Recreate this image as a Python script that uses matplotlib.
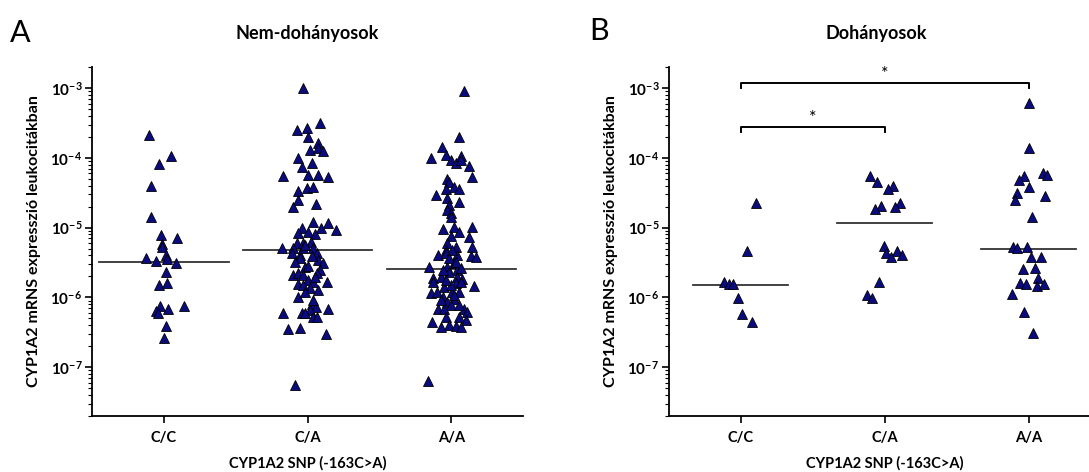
import matplotlib
matplotlib.use('Agg')
import matplotlib.pyplot as plt
import matplotlib.ticker as mticker
import numpy as np

plt.rcParams['font.family'] = ['Lato', 'DejaVu Sans']
plt.rcParams['mathtext.fontset'] = 'custom'
plt.rcParams['mathtext.rm'] = 'Lato'
plt.rcParams['mathtext.bf'] = 'Lato:bold'
plt.rcParams['axes.unicode_minus'] = False

genotypes = ['C/C', 'C/A', 'A/A']

# Nem-dohanyosok (jitter in category units)
nonsmoker_cc = [2.12e-4, 1.06e-4, 8.1e-5, 3.9e-5, 1.42e-5, 7.8e-6, 7.1e-6, 5.8e-6,
                5.25e-6, 3.65e-6, 4.0e-6, 3.5e-6, 3.3e-6, 3.1e-6, 2.3e-6, 1.5e-6,
                1.6e-6, 7.5e-7, 7.5e-7, 6.35e-7, 5.95e-7, 6.8e-7, 3.9e-7, 2.6e-7]
nonsmoker_cc_jitter = [-0.105, 0.05, -0.035, -0.09, -0.09, -0.02, 0.09, -0.015,
                       -0.015, -0.125, 0.015, 0.02, -0.055, 0.085, 0.015, -0.035,
                       0.02, -0.03, 0.14, -0.055, -0.04, 0.03, 0.015, 0.0]

nonsmoker_ca = [1.0e-3, 3.15e-4, 2.5e-4, 2.67e-4, 1.98e-4, 1.63e-4, 1.29e-4, 1.38e-4,
                1.25e-4, 9.9e-5, 8.4e-5, 7.4e-5, 5.47e-5, 5.66e-5, 5.66e-5, 5.3e-5,
                3.34e-5, 3.68e-5, 3.81e-5, 2.48e-5, 1.97e-5, 2.17e-5, 1.2e-5, 1.16e-5,
                9.2e-6, 9.8e-6, 9.8e-6, 8.3e-6, 8.6e-6, 8.07e-6, 6.0e-6, 6.0e-6,
                6.2e-6, 5.08e-6, 5.08e-6, 5.08e-6, 5.08e-6, 4.3e-6, 4.04e-6, 4.3e-6,
                3.42e-6, 3.1e-6, 2.72e-6, 2.46e-6, 2.08e-6, 2.23e-6, 2.08e-6, 2.23e-6,
                1.77e-6, 1.66e-6, 1.55e-6, 1.66e-6, 1.36e-6, 1.01e-6, 8.0e-7, 7.25e-7,
                6.6e-7, 6.8e-7, 5.95e-7, 5.95e-7, 5.95e-7, 5.2e-7, 5.2e-7, 3.5e-7,
                3.62e-7, 2.97e-7, 5.5e-8, 5.6e-6, 3.66e-6, 3.9e-6, 3.2e-6, 2.8e-6,
                1.95e-6, 1.5e-6, 1.27e-6, 1.19e-6, 9.1e-7]
nonsmoker_ca_jitter = [-0.035, 0.085, -0.075, -0.005, 0.005, 0.07, 0.015, 0.07,
                       0.105, -0.065, 0.03, -0.04, -0.17, 0.0, 0.075, 0.14,
                       -0.065, -0.005, 0.04, -0.07, -0.105, 0.055, 0.04, 0.14,
                       0.195, 0.09, -0.04, -0.07, 0.0, 0.05, -0.075, -0.035,
                       0.02, -0.175, -0.105, -0.035, 0.04, -0.11, -0.055, 0.065,
                       0.07, 0.105, -0.02, 0.085, -0.105, -0.07, -0.035, 0.065,
                       0.0, 0.035, -0.065, 0.135, 0.015, -0.065, 0.03, 0.055,
                       0.015, 0.14, -0.17, -0.04, -0.015, 0.04, 0.065, -0.14,
                       -0.05, 0.125, -0.085, -0.02, -0.055, 0.03, -0.085, 0.005,
                       0.05, -0.03, 0.07, -0.015, 0.035]

nonsmoker_aa = [9.06e-4, 1.98e-4, 1.43e-4, 9.9e-5, 1.09e-4, 9.3e-5, 8.4e-5, 1.06e-4,
                9.3e-5, 7.6e-5, 5.3e-5, 4.96e-5, 4.49e-5, 3.56e-5, 3.81e-5, 3.56e-5,
                2.92e-5, 2.65e-5, 2.32e-5, 2.1e-5, 1.78e-5, 1.61e-5, 1.42e-5, 9.5e-6,
                1.02e-5, 8.6e-6, 1.02e-5, 7.55e-6, 7.3e-6, 6.0e-6, 5.25e-6, 5.25e-6,
                4.75e-6, 4.04e-6, 4.3e-6, 4.04e-6, 3.9e-6, 3.78e-6, 2.72e-6, 2.72e-6,
                3.1e-6, 2.46e-6, 2.3e-6, 1.89e-6, 1.95e-6, 1.95e-6, 1.83e-6, 1.45e-6,
                1.66e-6, 1.6e-6, 1.66e-6, 1.4e-6, 1.15e-6, 1.19e-6, 1.19e-6, 1.19e-6,
                1.01e-6, 8.55e-7, 9.4e-7, 7.75e-7, 6.8e-7, 6.8e-7, 6.8e-7, 6.15e-7,
                5.2e-7, 5.2e-7, 4.7e-7, 4.4e-7, 4.0e-7, 3.87e-7, 3.74e-7, 3.74e-7,
                6.3e-8, 4.75e-6, 3.66e-6, 3.2e-6, 2.46e-6, 2.63e-6, 1.5e-6, 1.77e-6,
                1.08e-6, 9.1e-7, 7.75e-7]
nonsmoker_aa_jitter = [0.09, 0.055, -0.065, -0.14, -0.04, -0.005, 0.035, 0.07,
                       0.07, 0.12, 0.14, -0.03, -0.02, -0.035, 0.015, 0.055,
                       -0.105, -0.03, 0.055, -0.02, -0.03, -0.005, 0.0, -0.055,
                       0.015, 0.05, 0.14, 0.0, 0.12, -0.03, 0.035, 0.14,
                       -0.04, -0.09, -0.035, 0.04, 0.135, 0.17, -0.155, -0.03,
                       0.015, 0.04, -0.02, -0.125, -0.07, 0.04, 0.075, 0.155,
                       -0.125, 0.03, 0.065, -0.05, -0.145, -0.1, 0.005, 0.05,
                       -0.055, -0.03, 0.015, -0.005, -0.09, -0.05, 0.09, 0.11,
                       0.05, -0.04, 0.1, -0.135, -0.015, 0.035, -0.07, 0.07,
                       -0.16, 0.005, -0.015, 0.03, -0.055, 0.065, -0.005, -0.035,
                       0.02, -0.075, 0.05]

nonsmoker_medians = [3.25e-6, 4.8e-6, 2.57e-6]

# Dohanyosok
smoker_cc = [2.24e-5, 4.6e-6, 1.66e-6, 1.55e-6, 1.55e-6, 9.75e-7, 5.75e-7, 4.4e-7]
smoker_cc_jitter = [0.105, 0.04, -0.12, -0.085, -0.055, -0.02, 0.005, 0.075]

smoker_ca = [5.47e-5, 4.49e-5, 3.94e-5, 3.56e-5, 2.24e-5, 2.03e-5, 1.84e-5, 1.97e-5,
             5.43e-6, 4.3e-6, 4.6e-6, 3.78e-6, 4.04e-6, 1.66e-6, 1.08e-6, 9.75e-7]
smoker_ca_jitter = [-0.105, -0.055, 0.055, 0.02, 0.105, -0.03, -0.07, 0.07,
                    -0.005, 0.005, 0.085, 0.04, 0.12, -0.04, -0.125, -0.09]

smoker_aa = [6.1e-4, 1.38e-4, 6.05e-5, 5.66e-5, 5.47e-5, 4.8e-5, 3.81e-5, 3.12e-5,
             2.48e-5, 2.83e-5, 1.42e-5, 5.25e-6, 5.08e-6, 5.25e-6, 3.78e-6, 3.78e-6,
             2.57e-6, 2.63e-6, 1.89e-6, 1.6e-6, 1.55e-6, 1.45e-6, 1.55e-6, 1.11e-6,
             6.15e-7, 3.07e-7]
smoker_aa_jitter = [0.0, 0.0, 0.1, 0.125, -0.035, -0.07, 0.0, -0.085,
                    -0.1, 0.11, 0.02, -0.11, -0.085, -0.015, 0.015, 0.085,
                    -0.04, 0.04, 0.065, -0.065, -0.02, 0.055, 0.105, -0.12,
                    -0.035, 0.03]

smoker_medians = [1.5e-6, 1.17e-5, 5.0e-6]

# significance brackets: (from group, to group, height, label)
smoker_brackets = [(0, 2, 1.18e-3, '*'), (0, 1, 2.76e-4, '*')]


def log_label(val, pos):
    exp = int(np.round(np.log10(val)))
    return r'$\mathbf{10^{%d}}$' % exp


def draw_panel(ax, groups, jitters, medians, half_width):
    for i, (vals, jit) in enumerate(zip(groups, jitters)):
        x = i + np.array(jit)
        ax.plot(x, vals, linestyle='none', marker='^', markersize=6.5,
                markerfacecolor='#0b0b80', markeredgecolor='black',
                markeredgewidth=0.6, zorder=3)
        ax.plot([i - half_width, i + half_width], [medians[i], medians[i]],
                color='#333333', linewidth=1.3, zorder=2)

    ax.set_yscale('log')
    ax.set_ylim(2e-8, 2e-3)
    ax.set_xlim(-0.5, 2.5)
    ax.yaxis.set_minor_locator(mticker.LogLocator(base=10, subs=np.arange(2, 10), numticks=12))
    ax.yaxis.set_major_formatter(mticker.FuncFormatter(log_label))
    ax.yaxis.set_minor_formatter(mticker.NullFormatter())
    ax.set_yticks([1e-7, 1e-6, 1e-5, 1e-4, 1e-3])

    ax.set_xticks(range(len(genotypes)))
    ax.set_xticklabels(genotypes, fontweight='bold', fontsize=10.5)
    ax.tick_params(axis='x', length=5, width=1.2, pad=6)
    ax.tick_params(axis='y', which='major', length=5, width=1.2, labelsize=11, pad=2)
    ax.tick_params(axis='y', which='minor', length=3, width=0.8)

    for side in ['top', 'right']:
        ax.spines[side].set_visible(False)
    for side in ['left', 'bottom']:
        ax.spines[side].set_linewidth(1.3)

    ax.set_xlabel('CYP1A2 SNP (-163C>A)', fontweight='bold', fontsize=10.5, labelpad=8)
    ax.set_ylabel('CYP1A2 mRNS expresszió leukocitákban', fontweight='bold',
                  fontsize=11.5, labelpad=7)


fig = plt.figure(figsize=(10.89, 4.72), dpi=100)
ax_a = fig.add_axes([0.0845, 0.119, 0.396, 0.739])
ax_b = fig.add_axes([0.6143, 0.119, 0.3967, 0.739])

draw_panel(ax_a, [nonsmoker_cc, nonsmoker_ca, nonsmoker_aa],
           [nonsmoker_cc_jitter, nonsmoker_ca_jitter, nonsmoker_aa_jitter],
           nonsmoker_medians, 0.45)
draw_panel(ax_b, [smoker_cc, smoker_ca, smoker_aa],
           [smoker_cc_jitter, smoker_ca_jitter, smoker_aa_jitter],
           smoker_medians, 0.33)

for g1, g2, h, label in smoker_brackets:
    drop = h / 1.18
    ax_b.plot([g1, g1, g2, g2], [drop, h, h, drop], color='black', linewidth=1.4,
              clip_on=False)
    ax_b.text((g1 + g2) / 2, h * 1.03, label, ha='center', va='bottom', fontsize=13)

fig.text(0.282, 0.93, 'Nem-dohányosok', ha='center', va='center', fontweight='bold', fontsize=13)
fig.text(0.805, 0.93, 'Dohányosok', ha='center', va='center', fontweight='bold', fontsize=13)
fig.text(0.009, 0.93, 'A', ha='left', va='center', fontsize=22)
fig.text(0.541, 0.935, 'B', ha='left', va='center', fontsize=22)

fig.savefig('out.png', dpi=100)
